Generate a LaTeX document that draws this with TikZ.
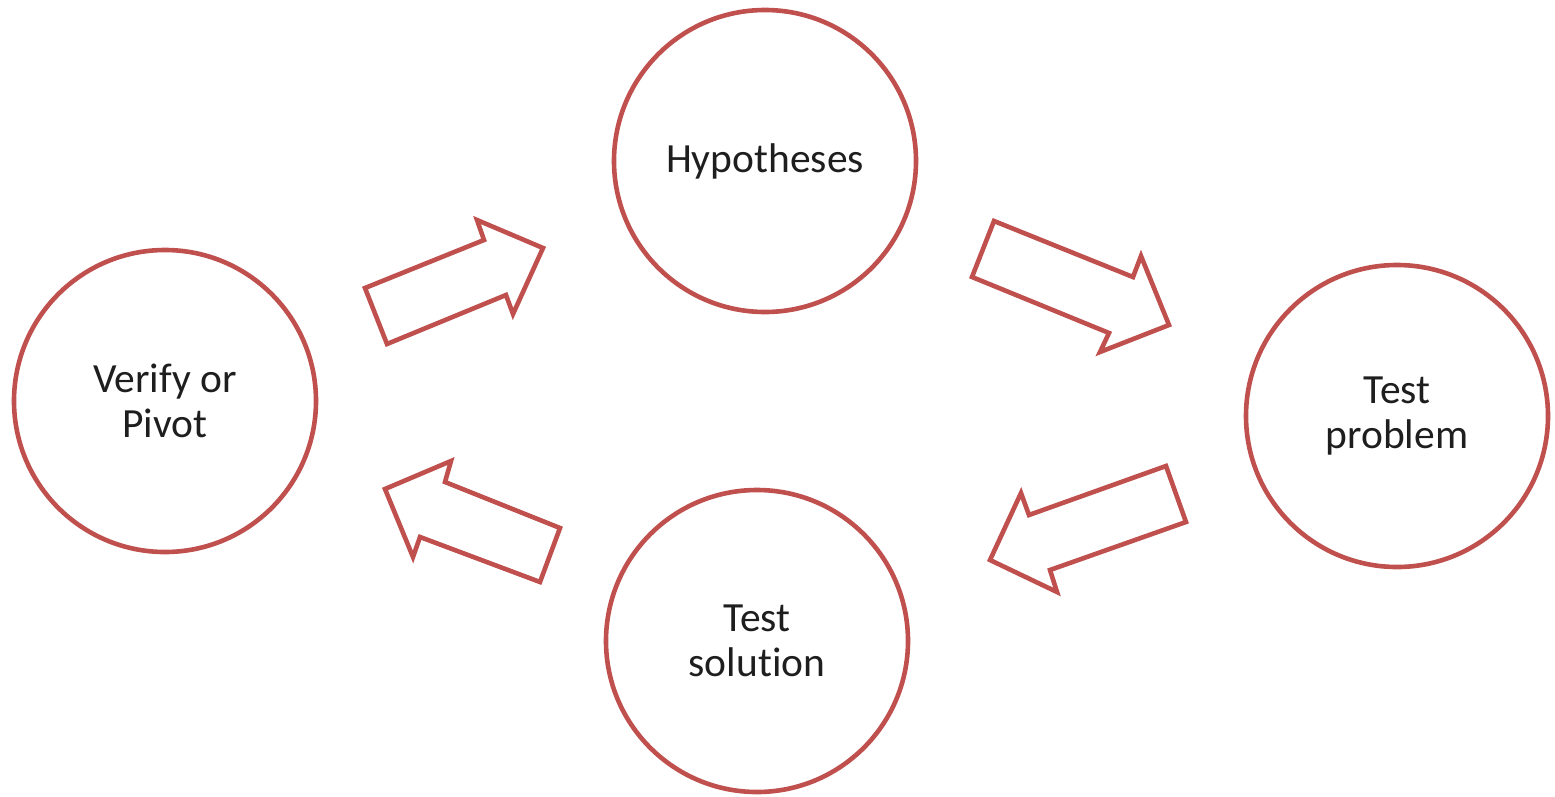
\documentclass[tikz,border=0pt]{standalone}
\usepackage{fontspec}
\setmainfont{Carlito}[Ligatures={NoCommon}]
\definecolor{ored}{RGB}{192,80,77}
\definecolor{txt}{RGB}{30,30,30}
\begin{document}
\begin{tikzpicture}[x=1pt,y=-1pt,
  stage/.style={circle,draw=ored,line width=4.6pt,fill=white,minimum size=302pt,inner sep=0pt,
    align=center,text=txt,font=\fontsize{41.5}{45}\selectfont},
  blockarrow/.style={draw=ored,line width=4.6pt,fill=white,line join=miter}]
\useasboundingbox (0,0) rectangle (1555,796);
\node[stage] (verify) at (165,401) {Verify or\\Pivot};
\node[stage] (hyp) at (765,161) {Hypotheses};
\node[stage] (tprob) at (1397,416) {Test\\problem};
\node[stage] (tsol) at (757,641) {Test\\solution};
% block arrows
\draw[blockarrow] (365,288) -- (484,240) -- (477,220) -- (543,248) -- (513,314) -- (506,295) -- (387,344) -- cycle;
\draw[blockarrow] (994,221) -- (1133,277) -- (1141,256) -- (1169,325) -- (1100,352) -- (1109,333) -- (972,277) -- cycle;
\draw[blockarrow] (1166,466) -- (1029,515) -- (1021,493) -- (990,560) -- (1057,592) -- (1050,570) -- (1186,522) -- cycle;
\draw[blockarrow] (560,528) -- (445,482) -- (451,461) -- (385,489) -- (413,557) -- (420,537) -- (540,582) -- cycle;
\end{tikzpicture}
\end{document}
